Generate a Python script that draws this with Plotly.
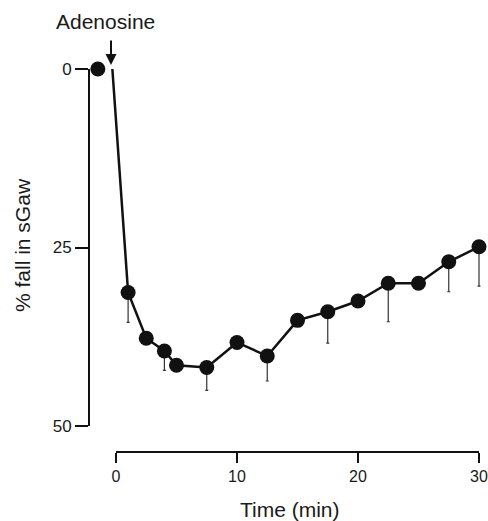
import plotly.graph_objects as go

# ---- data ----
baseline_time = [-1.5]
baseline_fall = [0]
onset_time = [-0.3]          # start of the line at adenosine administration
onset_fall = [0]
time_min = [1, 2.5, 4, 5, 7.5, 10, 12.5, 15, 17.5, 20, 22.5, 25, 27.5, 30]
fall_sgaw = [31.3, 37.7, 39.5, 41.5, 41.8, 38.3, 40.2, 35.2, 34.0, 32.5, 30.0, 30.0, 27.0, 24.9]
sem_down = [4.2, 0, 2.7, 0, 3.2, 0, 3.5, 0, 4.4, 0, 5.4, 0, 4.2, 5.5]
x_ticks = [0, 10, 20, 30]
y_ticks = [0, 25, 50]

W, H = 488, 521
# pixel frame of the visible axes
X0PX, X30PX = 116, 479
Y0PX, Y50PX = 69, 426
YAXIS_PX = 89
XAXIS_PX = 452

pxmin = (X30PX - X0PX) / 30.0
pxunit = (Y50PX - Y0PX) / 50.0
# data axes span full paper
xr = [(0 - X0PX) / pxmin, (W - X0PX) / pxmin]
yr = [(H - Y0PX) / pxunit, (0 - Y0PX) / pxunit]  # reversed

INK = "#111111"
TXT = "#1a1a1a"
FONT = "Liberation Sans, Arial, sans-serif"

fig = go.Figure()
# dummy trace to register display axes
fig.add_trace(go.Scatter(x=[None], y=[None], xaxis="x2", yaxis="y2",
                         showlegend=False, hoverinfo="skip"))
fig.add_trace(go.Scatter(
    x=onset_time + time_min, y=onset_fall + fall_sgaw, mode="lines",
    line=dict(color=INK, width=2.5), hoverinfo="skip", showlegend=False))
fig.add_trace(go.Scatter(
    x=time_min, y=fall_sgaw, mode="markers",
    marker=dict(color=INK, size=15),
    error_y=dict(type="data", symmetric=False, array=sem_down,
                 arrayminus=[0] * len(sem_down), color="#333333",
                 thickness=1.2, width=1.5),
    showlegend=False, cliponaxis=False))
fig.add_trace(go.Scatter(
    x=baseline_time, y=baseline_fall, mode="markers",
    marker=dict(color=INK, size=15), showlegend=False, cliponaxis=False))

fig.update_layout(
    width=W, height=H, margin=dict(l=0, r=0, t=0, b=0),
    paper_bgcolor="white", plot_bgcolor="rgba(0,0,0,0)",
    font=dict(family=FONT, color=TXT, size=16),
    xaxis=dict(domain=[0, 1], range=xr, visible=False, fixedrange=True),
    yaxis=dict(domain=[0, 1], range=yr, visible=False, fixedrange=True),
    xaxis2=dict(domain=[X0PX / W, X30PX / W], range=[0, 30],
                anchor="free", position=1 - XAXIS_PX / H,
                showline=True, linecolor=INK, linewidth=2,
                ticks="outside", ticklen=10, tickwidth=2, tickcolor=INK,
                tickvals=x_ticks, ticktext=[str(v) for v in x_ticks],
                showgrid=False, zeroline=False, automargin=False,
                tickfont=dict(size=16)),
    yaxis2=dict(domain=[1 - Y50PX / H, 1 - Y0PX / H], range=[50, 0],
                anchor="free", position=YAXIS_PX / W,
                showline=True, linecolor=INK, linewidth=2,
                ticks="outside", ticklen=13, tickwidth=2, tickcolor=INK,
                tickvals=y_ticks, ticktext=[str(v) for v in y_ticks],
                showgrid=False, zeroline=False, automargin=False,
                tickfont=dict(size=17)),
    annotations=[
        dict(text="Adenosine", xref="paper", yref="paper",
             x=105 / W, y=1 - 22 / H, showarrow=False,
             xanchor="center", yanchor="middle",
             font=dict(size=21, family=FONT, color=TXT)),
        dict(text="", xref="x", yref="y", x=(111 - X0PX) / pxmin,
             y=(65 - Y0PX) / pxunit, showarrow=True, ax=0, ay=-26,
             arrowhead=2, arrowsize=1.1, arrowwidth=2, arrowcolor=INK),
        dict(text="Time (min)", xref="paper", yref="paper",
             x=290 / W, y=1 - 509 / H, showarrow=False,
             xanchor="center", yanchor="middle",
             font=dict(size=21, family=FONT, color=TXT)),
        dict(text="% fall in sGaw", xref="paper", yref="paper",
             x=23 / W, y=1 - 245 / H, showarrow=False, textangle=-90,
             xanchor="center", yanchor="middle",
             font=dict(size=21, family=FONT, color=TXT)),
    ],
)

fig.write_html("out.html")
